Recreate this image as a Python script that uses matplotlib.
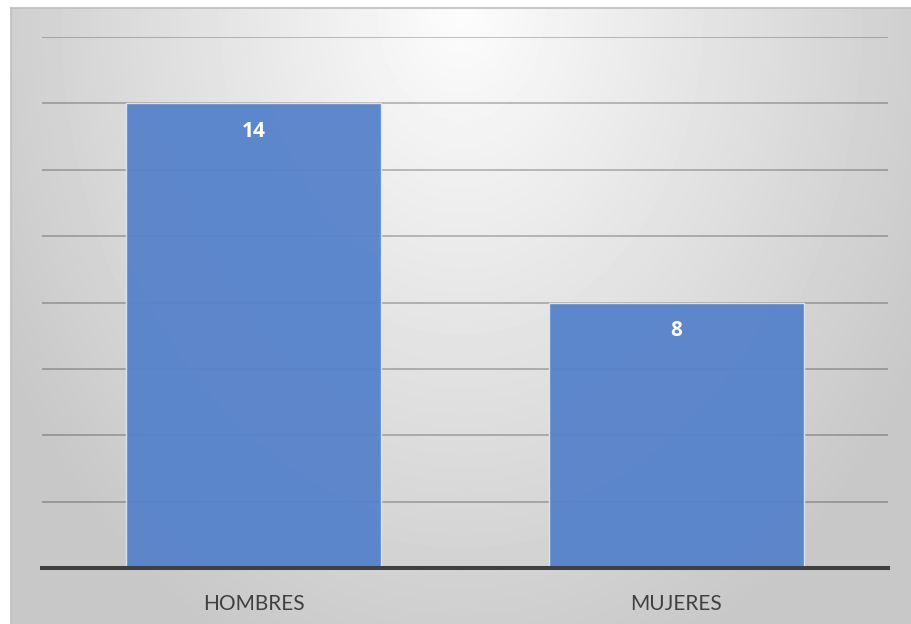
# Bar chart: HOMBRES vs MUJERES

import numpy as np
import matplotlib.pyplot as plt

categories = ["HOMBRES", "MUJERES"]
values = [14, 8]
y_max = 16
y_step = 2

W, H = 911, 624
fig = plt.figure(figsize=(W / 100, H / 100), dpi=100)
fig.patch.set_facecolor("white")

# gradient background panel (chart area)
x0, y0 = 11, 8
bg = fig.add_axes([x0 / W, 0, 1 - x0 / W, 1 - y0 / H])
yy, xx = np.mgrid[0:H - y0, 0:W - x0]
r = np.sqrt(((xx - 450) / 520.0) ** 2 + (yy / 700.0) ** 2)
r = np.clip(r, 0, 1)
shade = 0.99 - (0.99 - 0.785) * r
bg.imshow(shade, cmap="gray", vmin=0, vmax=1, aspect="auto",
          extent=[0, 1, 0, 1], interpolation="bilinear")
bg.set_xlim(0, 1)
bg.set_ylim(0, 1)
bg.set_xticks([])
bg.set_yticks([])
for side in ["right", "bottom"]:
    bg.spines[side].set_visible(False)
for side in ["top", "left"]:
    bg.spines[side].set_color("#bfbfbf")
    bg.spines[side].set_linewidth(1.2)

# main axes
left, right = 42, 888
top, bottom = 37, 568
ax = fig.add_axes([left / W, 1 - bottom / H, (right - left) / W, (bottom - top) / H])
ax.patch.set_alpha(0)

x = np.arange(len(categories))
bars = ax.bar(x, values, width=0.605, color="#5682cb", alpha=0.95,
              edgecolor="#dfe6f2", linewidth=1.0, zorder=3)

for xi, v in zip(x, values):
    ax.annotate(str(v), xy=(xi, v), xytext=(0, -20), textcoords="offset points",
                ha="center", va="center", color="white", fontsize=15,
                fontweight="bold", family="Open Sans", zorder=4)

ax.set_xlim(-0.5, len(categories) - 0.5)
ax.set_ylim(0, y_max)
ax.set_yticks(np.arange(0, y_max + 1, y_step))
ax.yaxis.grid(True, color="black", alpha=0.25, linewidth=1.3, zorder=1)
ax.set_axisbelow(True)
ax.tick_params(axis="y", left=False, labelleft=False)
ax.tick_params(axis="x", bottom=False, pad=15)
ax.set_xticks(x)
ax.set_xticklabels(categories, fontsize=15, color="#404040", family="Lato")

for side in ["top", "right", "left"]:
    ax.spines[side].set_visible(False)
ax.spines["bottom"].set_color("#404040")
ax.spines["bottom"].set_linewidth(2.9)
ax.spines["bottom"].set_zorder(5)

plt.savefig("out.png", dpi=100)
plt.close(fig)
